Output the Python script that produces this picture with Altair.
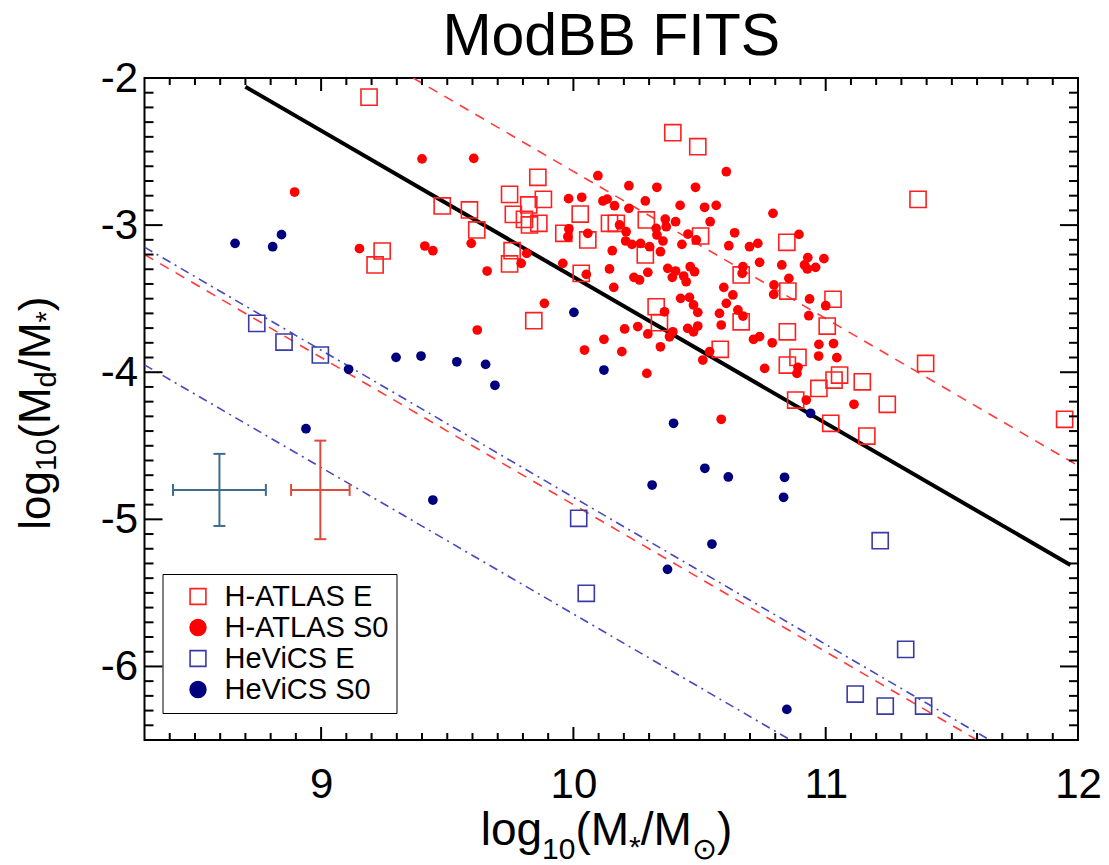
import altair as alt
import pandas as pd

FONT = "Liberation Sans"
W, H = 933.5, 662.0
X_DOMAIN = [8.3, 12.0]
Y_DOMAIN = [-6.5, -2.0]

# ---------------- data ----------------
series_names = ["H-ATLAS E", "H-ATLAS S0", "HeViCS E", "HeViCS S0"]
series_stroke = ["#ff1f1f", "#ff0000", "#3a3aa6", "#00007f"]
series_fill = ["transparent", "#ff0000", "transparent", "#00007f"]
series_shape = ["square", "circle", "square", "circle"]

hatlas_e_x = [9.19, 9.48, 9.242, 9.214, 10.394, 10.493, 9.859, 9.747, 9.881, 9.823,
              9.588, 9.762, 9.806, 9.863, 9.826, 10.027, 9.617, 9.962, 10.057, 10.143,
              10.17, 10.289, 10.504, 10.285, 9.757, 9.747, 10.031, 10.665, 10.328, 9.843,
              10.341, 10.665, 10.582, 11.366, 10.846, 10.85, 11.029, 11.006, 10.848, 10.89,
              10.848, 10.973, 11.033, 11.055, 11.145, 11.244, 11.396, 10.881, 11.02, 11.163,
              11.947]
hatlas_e_y = [-2.13, -2.87, -3.176, -3.271, -2.372, -2.467, -2.675, -2.791, -2.825, -2.863,
              -2.897, -2.927, -2.961, -2.988, -2.999, -2.925, -3.033, -3.056, -3.101, -2.988,
              -2.988, -2.965, -3.074, -3.203, -3.174, -3.264, -3.328, -3.339, -3.555, -3.65,
              -3.663, -3.657, -3.844, -2.825, -3.117, -3.448, -3.504, -3.686, -3.725, -3.899,
              -3.951, -4.11, -4.053, -4.019, -4.065, -4.218, -3.94, -4.189, -4.347, -4.434,
              -4.32]

hatlas_s0_x = [9.40, 8.895, 9.152, 9.411, 9.443,
               9.605, 10.097, 10.22, 10.331, 10.484, 10.606, 9.981, 10.033, 10.117, 10.134,
               10.163, 10.22, 10.285, 10.423, 10.52, 10.566, 10.364, 10.405, 10.542, 10.368,
               10.328, 10.183, 9.982, 9.978, 10.057, 10.209, 10.454, 10.639, 10.331, 10.355,
               10.207, 10.232, 10.266, 10.302, 10.43, 10.487, 10.616, 10.698, 10.731, 10.154,
               10.345, 9.815, 9.595, 9.793, 9.658, 9.958, 10.143, 10.295, 10.24, 10.262,
               10.374, 10.405, 10.392, 10.437, 10.447, 10.463, 10.48, 10.738, 10.672, 10.669,
               10.051, 10.672,
               9.885, 9.619, 10.16, 10.203, 10.255, 10.295, 10.121, 10.044, 10.192, 10.291,
               10.345, 10.381, 10.394, 10.361, 10.425, 10.46, 10.476, 10.493, 10.453, 10.476,
               10.493, 10.596, 10.632, 10.606, 10.579, 10.586, 10.652, 10.714, 10.513, 10.54,
               10.586,
               10.791, 10.894, 10.826, 10.929, 10.916, 10.927, 10.96, 10.993, 10.854, 10.795,
               10.794, 10.936, 11.0, 10.933,
               10.738, 10.788, 10.973, 11.031, 10.972, 11.044, 10.758, 10.89, 10.886, 10.923,
               11.112]
hatlas_s0_y = [-2.55, -2.775, -3.16, -3.142, -3.174,
               -2.546, -2.664, -2.732, -2.743, -2.743, -2.637, -2.82, -2.811, -2.836, -2.823,
               -2.868, -2.886, -2.836, -2.866, -2.879, -2.866, -2.959, -2.977, -2.977, -3.011,
               -3.022, -2.999, -3.026, -3.079, -3.056, -3.045, -3.061, -3.052, -3.067, -3.108,
               -3.108, -3.131, -3.124, -3.147, -3.131, -3.101, -3.14, -3.147, -3.124, -3.174,
               -3.181, -3.192, -3.124, -3.26, -3.312, -3.26, -3.298, -3.321, -3.355, -3.373,
               -3.294, -3.312, -3.355, -3.346, -3.385, -3.283, -3.317, -3.253, -3.283, -3.328,
               -3.335, -3.618,
               -3.532, -3.713, -3.423, -3.706, -3.69, -3.74, -3.776, -3.849, -3.86, -4.008,
               -3.827, -3.759, -3.725, -3.589, -3.498, -3.491, -3.543, -3.593, -3.702, -3.725,
               -3.686, -3.423, -3.475, -3.532, -3.6, -3.679, -3.577, -3.776, -3.917, -3.86,
               -4.32,
               -2.92, -3.063, -3.271, -3.221, -3.271, -3.298, -3.287, -3.228, -3.362, -3.407,
               -3.471, -3.502, -3.548, -3.616,
               -3.758, -3.8, -3.811, -3.805, -3.89, -3.901, -3.974, -3.967, -4.008, -4.189,
               -4.218]

hevics_e_x = [8.745, 8.853, 8.997, 10.021, 10.051, 11.216, 11.317, 11.117, 11.236, 11.388]
hevics_e_y = [-3.668, -3.795, -3.883, -4.993, -5.503, -5.145, -5.884, -6.188, -6.269, -6.269]

hevics_s0_x = [8.659, 8.808, 8.843, 9.109, 9.297, 9.396, 9.538, 9.652, 9.689, 8.94,
               9.443, 10.002, 10.121, 10.397, 10.521, 10.614, 10.312, 10.549, 10.373, 10.837,
               10.833, 10.94, 10.846]
hevics_s0_y = [-3.124, -3.147, -3.065, -3.98, -3.899, -3.89, -3.929, -3.947, -4.089, -4.384,
               -4.869, -3.593, -3.985, -4.347, -4.653, -4.712, -4.767, -5.168, -5.34, -4.714,
               -4.85, -4.279, -6.292]

# reference lines (end points)
black_x = [8.70, 11.97]
black_y = [-2.06, -5.31]
red_dash_id = ["a", "a", "b", "b"]
red_dash_x = [9.365, 12.0, 8.3, 11.6]
red_dash_y = [-2.0, -4.635, -3.2, -6.5]
blue_dd_id = ["a", "a", "b", "b"]
blue_dd_x = [8.3, 11.65, 8.3, 10.86]
blue_dd_y = [-3.15, -6.5, -3.95, -6.5]

# typical error bars
eb_color = ["#3f6d8e", "#dc4b3c"]
eb_x = [8.597, 8.997]
eb_y = [-4.80, -4.80]
eb_xerr = [0.184, 0.116]
eb_yerr = [0.245, 0.335]

x_major = [9, 10, 11, 12]
y_major = [-2, -3, -4, -5, -6]
x_minor = [round(8.3 + 0.1 * i, 1) for i in range(1, 37) if abs(round(8.3 + 0.1 * i, 1) % 1) > 1e-6]
y_minor = [round(-6.5 + 0.1 * i, 1) for i in range(1, 45) if abs(round(-6.5 + 0.1 * i, 1) % 1) > 1e-6]

# ---------------- helpers ----------------
xs = alt.Scale(domain=X_DOMAIN, nice=False, zero=False)
ys = alt.Scale(domain=Y_DOMAIN, nice=False, zero=False)
XAX = alt.Axis(values=x_major, title=None, labelPadding=24, labelFlush=False,
               labelExpr="'' + datum.value")
YAX = alt.Axis(values=y_major, title=None, labelPadding=7, labelFlush=False,
               labelExpr="'' + datum.value")


def X(f):
    return alt.X(f, type="quantitative", scale=xs, axis=XAX)


def Y(f):
    return alt.Y(f, type="quantitative", scale=ys, axis=YAX)


LEG = alt.Legend(title=None, orient="none", legendX=18, legendY=496,
                 strokeColor="black", fillColor="white", padding=8,
                 labelFont=FONT, labelFontSize=29, labelColor="black",
                 symbolSize=250, symbolStrokeWidth=1.6, symbolOffset=13,
                 labelOffset=12, rowPadding=1, labelLimit=400)

def enc_series():
    return dict(
        stroke=alt.Stroke("series:N", scale=alt.Scale(domain=series_names, range=series_stroke), legend=LEG),
        fill=alt.Fill("series:N", scale=alt.Scale(domain=series_names, range=series_fill), legend=LEG),
        shape=alt.Shape("series:N", scale=alt.Scale(domain=series_names, range=series_shape), legend=LEG),
    )

# ---------------- frames ----------------
sq_df = pd.concat([
    pd.DataFrame({"x": hatlas_e_x, "y": hatlas_e_y, "series": series_names[0]}),
    pd.DataFrame({"x": hevics_e_x, "y": hevics_e_y, "series": series_names[2]}),
])
ci_df = pd.concat([
    pd.DataFrame({"x": hatlas_s0_x, "y": hatlas_s0_y, "series": series_names[1]}),
    pd.DataFrame({"x": hevics_s0_x, "y": hevics_s0_y, "series": series_names[3]}),
])

layers = []

# lines
layers.append(alt.Chart(pd.DataFrame({"x": blue_dd_x, "y": blue_dd_y, "id": blue_dd_id}))
              .mark_line(color="#4848c0", strokeWidth=1.6, strokeDash=[9, 5, 2, 5], clip=True)
              .encode(x=X("x"), y=Y("y"), detail="id:N"))
layers.append(alt.Chart(pd.DataFrame({"x": red_dash_x, "y": red_dash_y, "id": red_dash_id}))
              .mark_line(color="#ff3b3b", strokeWidth=1.6, strokeDash=[10, 8], clip=True)
              .encode(x=X("x"), y=Y("y"), detail="id:N"))
layers.append(alt.Chart(pd.DataFrame({"x": black_x, "y": black_y}))
              .mark_line(color="black", strokeWidth=4, clip=True)
              .encode(x=X("x"), y=Y("y")))

# error bars
eb = pd.DataFrame({"x": eb_x, "y": eb_y, "c": eb_color,
                   "xl": [a - b for a, b in zip(eb_x, eb_xerr)],
                   "xh": [a + b for a, b in zip(eb_x, eb_xerr)],
                   "yl": [a - b for a, b in zip(eb_y, eb_yerr)],
                   "yh": [a + b for a, b in zip(eb_y, eb_yerr)]})
ebc = alt.Chart(eb)
layers.append(ebc.mark_rule(strokeWidth=2).encode(x=X("xl"), x2="xh", y=Y("y"), color=alt.Color("c:N", scale=None)))
layers.append(ebc.mark_rule(strokeWidth=2).encode(x=X("x"), y=Y("yl"), y2="yh", color=alt.Color("c:N", scale=None)))
for f in ["xl", "xh"]:
    layers.append(ebc.mark_tick(orient="vertical", size=12, thickness=2, opacity=1)
                  .encode(x=X(f), y=Y("y"), color=alt.Color("c:N", scale=None)))
for f in ["yl", "yh"]:
    layers.append(ebc.mark_tick(orient="horizontal", size=12, thickness=2, opacity=1)
                  .encode(x=X("x"), y=Y(f), color=alt.Color("c:N", scale=None)))

# points
layers.append(alt.Chart(sq_df).mark_point(size=260, strokeWidth=1.6, opacity=1)
              .encode(x=X("x"), y=Y("y"), **enc_series()))
layers.append(alt.Chart(ci_df).mark_point(size=95, strokeWidth=0, opacity=1)
              .encode(x=X("x"), y=Y("y"), **enc_series()))

# inward ticks
def tick_layer(vals, axis, side, length):
    d = alt.Chart(pd.DataFrame({"v": vals}))
    m = d.mark_rule(color="black", strokeWidth=2)
    if axis == "x":
        y0 = H if side == "bottom" else 0
        y1 = H - length if side == "bottom" else length
        return m.encode(x=X("v"), y=alt.value(y0), y2=alt.value(y1))
    x0 = 0 if side == "left" else W
    x1 = length if side == "left" else W - length
    return m.encode(y=Y("v"), x=alt.value(x0), x2=alt.value(x1))

for side in ["bottom", "top"]:
    layers.append(tick_layer(x_major, "x", side, 13))
    layers.append(tick_layer(x_minor, "x", side, 7))
for side in ["left", "right"]:
    layers.append(tick_layer(y_major, "y", side, 18))
    layers.append(tick_layer(y_minor, "y", side, 9))

# ---------------- texts ----------------
AW = {'l': 222, 'o': 556, 'g': 556, '1': 556, '0': 556, '(': 333, ')': 333, 'M': 833,
      '/': 278, '*': 389, 'd': 556, ' ': 278, '⊙': 838}


def tw(s, size):
    return sum(AW[c] for c in s) / 1000.0 * size


def piece(text, x, y, size, angle=0, align="left"):
    return (alt.Chart(pd.DataFrame({"t": [text]}))
            .mark_text(text=text, font=FONT, fontSize=size, angle=angle, align=align,
                       baseline="alphabetic", color="black")
            .encode(x=alt.value(x), y=alt.value(y)))

# chart title
layers.append(piece("ModBB FITS", W / 2, -23, 59, align="center"))

S, s = 46, 30
x_pieces = [("log", S, 0), ("10", s, 14), ("(M", S, 0), ("*", s, 12), ("/M", S, 0), ("⊙", s, 14), (")", S, 0)]
total = sum(tw(t, z) for t, z, _ in x_pieces)
cx, base = 462.0, 767.0
cur = cx - total / 2
for t, z, dy in x_pieces:
    layers.append(piece(t, cur, base + dy, z))
    cur += tw(t, z)

S, s = 44, 29
y_pieces = [("log", S, 0), ("10", s, 6), ("(M", S, 0), ("d", s, 6), ("/M", S, 0), ("*", s, 6), (" )", S, 0)]
total = sum(tw(t, z) for t, z, _ in y_pieces)
cy, basex = 329.0, -94.5
cur = cy + total / 2
for t, z, dx in y_pieces:
    layers.append(piece(t, basex + dx, cur, z, angle=270))
    cur -= tw(t, z)

chart = (alt.layer(*layers)
         .properties(width=W, height=H,
                     padding={"left": 144.5, "top": 78, "right": 31, "bottom": 125},
                     autosize=alt.AutoSizeParams(type="none"))
         .configure_view(stroke="black", strokeWidth=2)
         .configure_axis(grid=False, domain=False, ticks=False, tickSize=0,
                         labelFont=FONT, labelFontSize=42, labelColor="black"))

chart.save("out.html", embed_options={"renderer": "svg", "actions": False})
